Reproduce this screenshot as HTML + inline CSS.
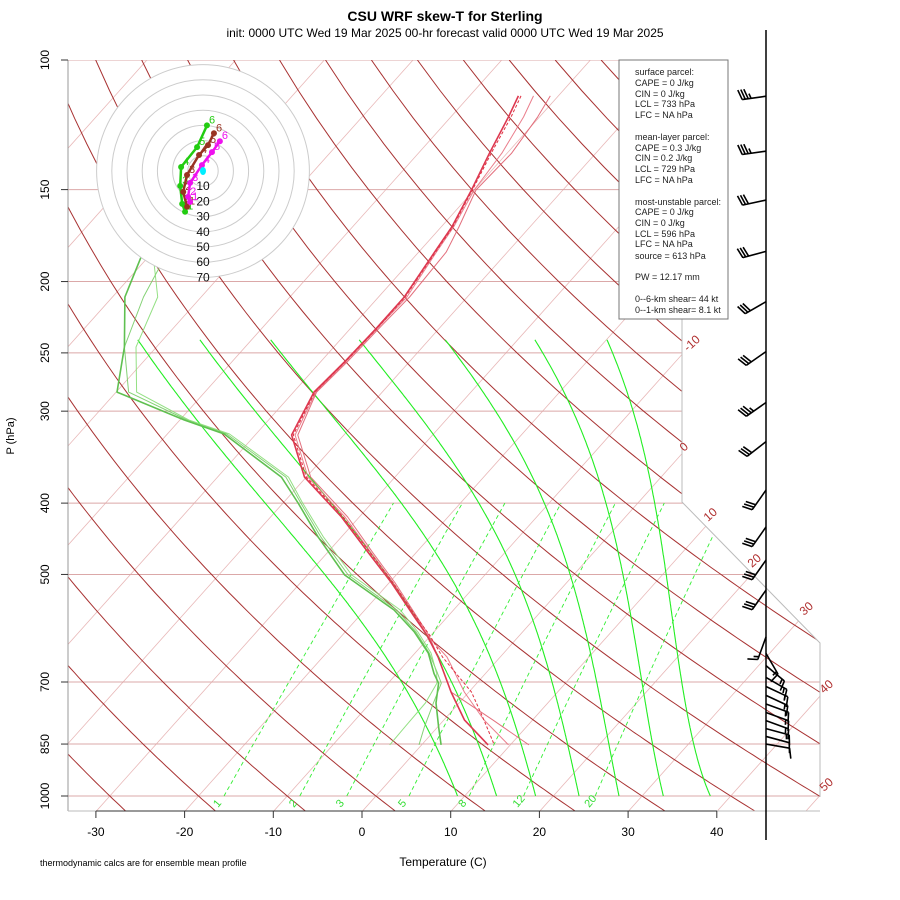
<!DOCTYPE html>
<html><head><meta charset="utf-8"><style>
body{margin:0;background:#fff;}
svg{display:block;font-family:"Liberation Sans",sans-serif;}
</style></head><body>
<svg id="chart" width="900" height="900" viewBox="0 0 900 900" xmlns="http://www.w3.org/2000/svg">
<rect width="900" height="900" fill="#fff"/>
<defs><clipPath id="plotclip"><polygon points="68,60 682,60 682,502 820,643 820,811 68,811"/></clipPath></defs>
<text x="445" y="21" text-anchor="middle" font-size="14" font-weight="bold">CSU WRF skew-T for Sterling</text>
<text x="445" y="37" text-anchor="middle" font-size="12">init: 0000 UTC Wed 19 Mar 2025    00-hr forecast valid 0000 UTC Wed 19 Mar 2025</text>
<g id="bg" clip-path="url(#plotclip)"></g>
<g id="series"></g>
<g id="frame"></g>
<g id="hodo"></g>
<g id="barbs"></g>
<g id="axes"></g>
<g font-size="9" fill="#222">
<rect x="619" y="60" width="109" height="259" fill="#fff" stroke="#777" stroke-width="1"/>
<text x="635" y="75">surface parcel:</text>
<text x="635" y="86">CAPE = 0 J/kg</text>
<text x="635" y="97">CIN = 0 J/kg</text>
<text x="635" y="107">LCL = 733 hPa</text>
<text x="635" y="118">LFC = NA hPa</text>
<text x="635" y="140">mean-layer parcel:</text>
<text x="635" y="151">CAPE = 0.3 J/kg</text>
<text x="635" y="161">CIN = 0.2 J/kg</text>
<text x="635" y="172">LCL = 729 hPa</text>
<text x="635" y="183">LFC = NA hPa</text>
<text x="635" y="205">most-unstable parcel:</text>
<text x="635" y="215">CAPE = 0 J/kg</text>
<text x="635" y="226">CIN = 0 J/kg</text>
<text x="635" y="237">LCL = 596 hPa</text>
<text x="635" y="247">LFC = NA hPa</text>
<text x="635" y="259">source = 613 hPa</text>
<text x="635" y="280">PW =  12.17 mm</text>
<text x="635" y="302">0--6-km shear= 44 kt</text>
<text x="635" y="313">0--1-km shear= 8.1 kt</text>
</g>
<text x="443" y="866" text-anchor="middle" font-size="12">Temperature (C)</text>
<text x="14" y="436" text-anchor="middle" font-size="11" transform="rotate(-90 14 436)">P (hPa)</text>
<text x="40" y="866" font-size="9">thermodynamic calcs are for ensemble mean profile</text>
</svg>
<script>
// ---- data ----
const P_LEVELS=[100,150,200,250,300,400,500,700,850,1000];
const T_TICKS=[-30,-20,-10,0,10,20,30,40];
const ISO_LABELS=[-10,0,10,20,30,40,50];
const MIX_RATIOS=[1,2,3,5,8,12,20];
const MOIST_START=[9.2,13.6,18.0,22.9,27.4,32.4,37.7];
const T_P=[111.9,119.5,133.8,150.2,168.6,182.4,209.9,232.8,257.2,282.6,323.2,368.7,417.8,467.7,513.5,571.2,604.1,647.4,722.5,788.1,852.3];
const T_MEAN=[-54.5,-53.5,-52.0,-50.3,-48.8,-48.2,-47.1,-47.1,-47.3,-47.7,-45.9,-40.2,-32.0,-25.3,-19.7,-13.7,-10.5,-7.0,-2.0,2.3,7.5];
const T_MEM2=[-52.8,-51.8,-50.6,-50.0,-48.6,-48.0,-46.8,-47.0,-47.2,-47.5,-45.5,-39.8,-31.6,-25.0,-19.5,-13.5,-10.5,-6.0,-0.5,4.5,9.8];
const T_MEM3=[-50.9,-50.2,-49.5,-49.8,-48.0,-46.9,-46.5,-46.8,-47.0,-47.4,-45.2,-39.5,-31.3,-24.8,-19.3,-13.4,-10.3,-7.0,-2.0,5.5,12.1];
const T_DASH=[-54.2,-53.2,-51.8,-50.2,-48.7,-48.1,-47.0,-47.0,-47.2,-47.6,-45.7,-40.0,-31.8,-25.1,-19.5,-13.5,-10.2,-6.5,0.3,4.5,8.2];
const TD_P=[185.3,209.9,245.5,282.6,308.4,322.2,368.7,399.9,444.9,500.9,558.8,598.6,639.4,681.6,702.7,747.5,805.6,852.3];
const TD_MEAN=[-80.8,-78.6,-73.6,-69.9,-59.5,-53.6,-42.8,-38.3,-32.6,-25.8,-16.7,-12.2,-8.5,-5.8,-4.3,-2.6,0.1,2.2];
const TD_MEM2=[-79.4,-74.9,-72.3,-67.7,-59.0,-53.0,-42.0,-37.8,-32.0,-25.0,-16.0,-11.8,-8.2,-5.5,-4.5,-3.8,-3.7,-3.6];
const TD_MEM3=[-78.1,-76.5,-73.6,-68.6,-59.2,-53.3,-42.3,-38.0,-32.3,-25.4,-16.4,-12.0,-8.4,-5.4,-4.0,-2.9,-1.5,-0.3];
const WIND_P=[112,133,155,182,213,249,292,330,384,431,478,525,608,640,665,690,710,730,750,770,790,810,830,850];
const WIND_DIR=[262,262,258,255,240,235,235,232,215,215,215,215,200,150,130,120,115,115,110,110,110,105,105,100];
const WIND_SPD=[35,35,30,30,30,30,35,30,30,30,30,30,15,15,15,15,15,15,15,15,15,15,10,10];
const HODO_GREEN_U=[2.6,-3.9,-14.4,-15.0,-13.7,-11.8];
const HODO_GREEN_V=[30.0,15.7,2.6,-9.8,-21.6,-26.8];
const HODO_BROWN_U=[7.2,3.3,-2.6,-10.5,-13.0,-10.5];
const HODO_BROWN_V=[24.8,17.0,10.5,-2.6,-13.7,-23.5];
const HODO_MAG_U=[11.1,5.9,-0.7,-8.5,-9.8,-8.5];
const HODO_MAG_V=[19.6,12.4,3.9,-7.8,-17.0,-20.3];
const HODO_RINGS=[10,20,30,40,50,60,70];

// ---- scales ----
const NS='http://www.w3.org/2000/svg';
function py(p){return 60+736*(Math.log10(p)-2);}
const YB=py(1050);
function px(T,p){return 362+8.87*T+0.894*(YB-py(p));}
function mk(tag,parent,attrs){const e=document.createElementNS(NS,tag);for(const k in attrs)e.setAttribute(k,attrs[k]);parent.appendChild(e);return e;}
function pathFrom(pts){return pts.map((q,i)=>(i?'L':'M')+q[0].toFixed(1)+','+q[1].toFixed(1)).join('');}
const bg=document.getElementById('bg'),series=document.getElementById('series'),axes=document.getElementById('axes'),frame=document.getElementById('frame');

// isotherms
for(let T=-140;T<=50;T+=10){const e=mk('line',bg,{x1:px(T,1050),y1:YB,x2:px(T,100),y2:py(100),stroke:'#e8b8b8','stroke-width':0.8});

}
// pressure lines
P_LEVELS.forEach(p=>{const e=mk('line',bg,{x1:68,y1:py(p),x2:820,y2:py(p),stroke:'#dba8a8','stroke-width':1});

});
// dry adiabats
for(let th=-30;th<=200;th+=10){const pts=[];for(let p=1050;p>=100;p-=10){const T=(th+273.15)*Math.pow(p/1000,0.2857)-273.15;pts.push([px(T,p),py(p)]);}
const e=mk('path',bg,{d:pathFrom(pts),fill:'none',stroke:'#a83232','stroke-width':1});

}
// moist adiabats
function es(T){return 6.112*Math.exp(17.67*T/(T+243.5));}
function ws(T,p){const e=es(T);return 0.622*e/(p-e);}
function gammaM(T,p){const Tk=T+273.15,w0=ws(T,p),w=w0*Math.max(0.2,1-18*w0),L=2.5e6,Rd=287,cp=1005;
return (Rd*Tk+L*w)/(cp+L*L*w*0.622/(Rd*Tk*Tk))/p;}
MOIST_START.forEach(T0=>{let T=T0,pts=[];for(let p=1000;p>=240;p-=2){pts.push([px(T,p),py(p)]);T-=gammaM(T,p)*2;}
const e=mk('path',bg,{d:pathFrom(pts),fill:'none',stroke:'#22ee22','stroke-width':1.1});

});
// mixing ratio lines
function tdFromW(w,p){const e=w/1000*p/(0.622+w/1000);const l=Math.log(e/6.112);return 243.5*l/(17.67-l);}
MIX_RATIOS.forEach(w=>{const pts=[];for(let p=1000;p>=400;p-=20)pts.push([px(tdFromW(w,p),p),py(p)]);
const e=mk('path',bg,{d:pathFrom(pts),fill:'none',stroke:'#33ee33','stroke-width':0.9,'stroke-dasharray':'4,3'});


const x=px(tdFromW(w,1000),1000)-6;
const t=mk('text',axes,{x:x,y:808,fill:'#33dd33','font-size':11,transform:`rotate(-50 ${x} 808)`});t.textContent=w;

});
// isotherm labels
const ISO_LAB_X=[688,684,708,752,804,824,824];
const ISO_LAB_Y=[352,452,522,568,616,694,792];
ISO_LABELS.forEach((T,i)=>{const x=ISO_LAB_X[i],y=ISO_LAB_Y[i];
const t=mk('text',axes,{x:x,y:y,fill:'#b03030','font-size':12,transform:`rotate(-42 ${x} ${y})`});t.textContent=T;

});

// profiles
function prof(Ps,Ts,color,w,dash,name,op){const pts=Ps.map((p,i)=>[px(Ts[i],p),py(p)]);
const a={d:pathFrom(pts),fill:'none',stroke:color,'stroke-width':w,'stroke-linejoin':'round',opacity:op};if(dash)a['stroke-dasharray']=dash;
const e=mk('path',series,a);

}
prof(TD_P,TD_MEM3,'#77cc66',1,null,'dewpoint-member-3',0.9);
prof(TD_P,TD_MEM2,'#88dd77',1,null,'dewpoint-member-2',0.9);
prof(TD_P,TD_MEAN,'#5fc050',1.6,null,'dewpoint-mean',1);
prof(T_P,T_MEM3,'#e06070',1,null,'temperature-member-3',0.9);
prof(T_P,T_MEM2,'#e87080',1,null,'temperature-member-2',0.9);
prof(T_P,T_DASH,'#e03040',1,'3,2','temperature-dashed',1);
prof(T_P,T_MEAN,'#dd3850',1.6,null,'temperature-mean',1);

// frame
let e=mk('polyline',frame,{points:'682,60 682,502 820,643 820,797',fill:'none',stroke:'#bbb','stroke-width':1});


e=mk('line',frame,{x1:68,y1:60,x2:68,y2:811,stroke:'#999','stroke-width':1});


e=mk('line',frame,{x1:68,y1:811,x2:820,y2:811,stroke:'#bbb','stroke-width':1});


e=mk('line',axes,{x1:96,y1:811,x2:717,y2:811,stroke:'#333','stroke-width':1});


T_TICKS.forEach(T=>{const x=px(T,1050);const l=mk('line',axes,{x1:x,y1:811,x2:x,y2:818,stroke:'#333'});


const t=mk('text',axes,{x:x,y:836,'text-anchor':'middle','font-size':12});t.textContent=T;

});
P_LEVELS.forEach(p=>{const y=py(p);const l=mk('line',axes,{x1:61,y1:y,x2:68,y2:y,stroke:'#333'});


const t=mk('text',axes,{x:46,y:y,'text-anchor':'middle','font-size':12,transform:`rotate(-90 46 ${y})`,'dominant-baseline':'middle'});t.textContent=p;

});

// hodograph
const hodo=document.getElementById('hodo');const HX=203,HY=171,HK=1.52;
e=mk('circle',hodo,{cx:HX,cy:HY,r:70*HK,fill:'#fff',stroke:'none'});


HODO_RINGS.forEach(r=>{const c=mk('circle',hodo,{cx:HX,cy:HY,r:r*HK,fill:'none',stroke:'#ccc','stroke-width':1});

});
function hodoLine(U,V,color,name){const pts=U.map((u,i)=>[HX+u*HK,HY-V[i]*HK]);
const l=mk('path',hodo,{d:pathFrom(pts),fill:'none',stroke:color,'stroke-width':2.5});


pts.forEach((q,i)=>{const c=mk('circle',hodo,{cx:q[0],cy:q[1],r:3,fill:color});


const t=mk('text',hodo,{x:q[0]+2,y:q[1]-2,fill:color,'font-size':11});t.textContent=6-i;

});}
hodoLine(HODO_GREEN_U,HODO_GREEN_V,'#22cc11','hodograph-green');
hodoLine(HODO_BROWN_U,HODO_BROWN_V,'#993322','hodograph-brown');
hodoLine(HODO_MAG_U,HODO_MAG_V,'#ee11ee','hodograph-magenta');
e=mk('ellipse',hodo,{cx:HX,cy:HY,rx:3,ry:4,fill:'#00eeff'});


HODO_RINGS.forEach(r=>{const t=mk('text',hodo,{x:HX,y:HY+r*HK+4,'text-anchor':'middle','font-size':12,fill:'#111'});t.textContent=r;

});

// wind barbs
const barbs=document.getElementById('barbs');const BX=766;
e=mk('line',barbs,{x1:BX,y1:30,x2:BX,y2:840,stroke:'#000','stroke-width':1.5});


WIND_P.forEach((p,i)=>{const y=py(p),d=WIND_DIR[i]*Math.PI/180;const dx=Math.sin(d),dy=-Math.cos(d);const L=24;
const ex=BX+dx*L,ey=y+dy*L;let s='M'+BX+','+y+'L'+ex.toFixed(1)+','+ey.toFixed(1);
let spd=WIND_SPD[i],k=0;const nx=-dy,ny=dx;
while(spd>=10){const bx=ex-dx*k*3,by=ey-dy*k*3;s+='M'+bx.toFixed(1)+','+by.toFixed(1)+'l'+(nx*10+dx*3).toFixed(1)+','+(ny*10+dy*3).toFixed(1);spd-=10;k++;}
if(spd>=5){const bx=ex-dx*k*3,by=ey-dy*k*3;s+='M'+bx.toFixed(1)+','+by.toFixed(1)+'l'+(nx*5+dx*1.5).toFixed(1)+','+(ny*5+dy*1.5).toFixed(1);}
const b=mk('path',barbs,{d:s,fill:'none',stroke:'#000','stroke-width':1.6});

});
</script>
</body></html>
